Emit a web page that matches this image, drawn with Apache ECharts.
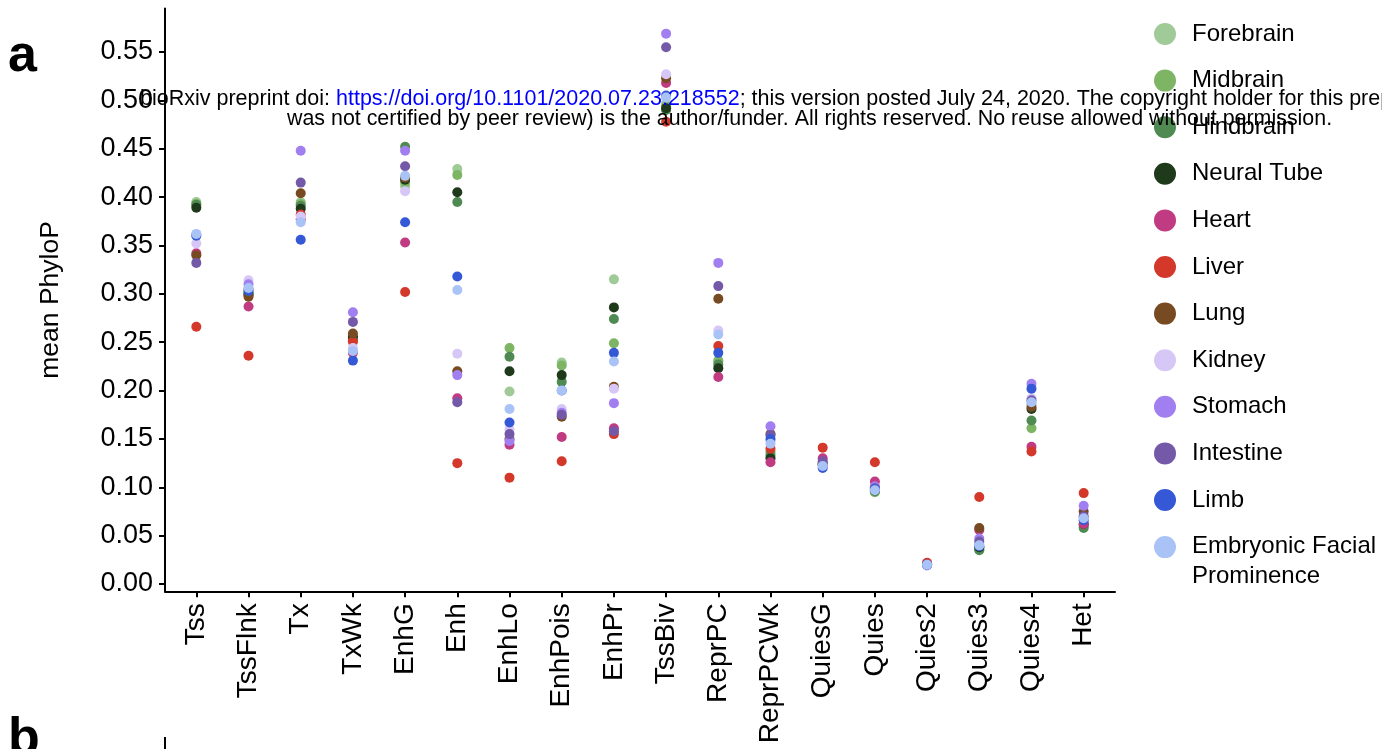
<!DOCTYPE html>
<html><head><meta charset="utf-8">
<script src="https://cdn.jsdelivr.net/npm/echarts@6/dist/echarts.min.js"></script>
<style>html,body{margin:0;padding:0;background:#fff;overflow:hidden}#c{width:1382px;height:749px}</style>
</head><body><div id="c"></div>
<script>
const categories = ['Tss','TssFlnk','Tx','TxWk','EnhG','Enh','EnhLo','EnhPois','EnhPr','TssBiv','ReprPC','ReprPCWk','QuiesG','Quies','Quies2','Quies3','Quies4','Het'];
const yTicks = [0, 0.05, 0.10, 0.15, 0.20, 0.25, 0.30, 0.35, 0.40, 0.45, 0.50, 0.55];

const forebrain  = [0.395,0.302,0.395,0.250,0.411,0.429,0.199,0.229,0.315,0.497,0.230,0.136,0.124,0.096,0.020,0.037,0.186,0.061];
const midbrain   = [0.393,0.301,0.393,0.252,0.415,0.423,0.244,0.226,0.249,0.494,0.231,0.137,0.124,0.095,0.020,0.036,0.161,0.060];
const hindbrain  = [0.392,0.300,0.391,0.254,0.452,0.395,0.235,0.209,0.274,0.490,0.227,0.133,0.123,0.096,0.020,0.035,0.169,0.058];
const neuralTube = [0.389,0.299,0.388,0.256,0.418,0.405,0.220,0.216,0.286,0.492,0.223,0.130,0.123,0.097,0.020,0.038,0.181,0.062];
const heart      = [0.342,0.287,0.377,0.239,0.353,0.192,0.144,0.152,0.161,0.518,0.214,0.126,0.130,0.106,0.021,0.056,0.142,0.062];
const liver      = [0.266,0.236,0.382,0.251,0.302,0.125,0.110,0.127,0.155,0.478,0.246,0.140,0.141,0.126,0.022,0.090,0.137,0.094];
const lung       = [0.340,0.297,0.404,0.259,0.420,0.220,0.150,0.173,0.204,0.523,0.295,0.155,0.125,0.100,0.020,0.058,0.183,0.075];
const kidney     = [0.352,0.314,0.380,0.244,0.406,0.238,0.160,0.181,0.202,0.527,0.262,0.148,0.122,0.099,0.019,0.041,0.192,0.069];
const stomach    = [0.361,0.310,0.448,0.281,0.448,0.216,0.148,0.177,0.187,0.569,0.332,0.163,0.124,0.101,0.020,0.047,0.207,0.081];
const intestine  = [0.332,0.305,0.415,0.271,0.432,0.188,0.155,0.175,0.158,0.555,0.308,0.154,0.127,0.099,0.020,0.044,0.190,0.070];
const limb       = [0.360,0.303,0.356,0.231,0.374,0.318,0.167,0.200,0.239,0.505,0.239,0.150,0.120,0.098,0.020,0.039,0.202,0.066];
const facial     = [0.362,0.306,0.374,0.241,0.422,0.304,0.181,0.200,0.230,0.503,0.258,0.145,0.122,0.097,0.020,0.040,0.188,0.068];

const seriesNames = ['Forebrain','Midbrain','Hindbrain','Neural Tube','Heart','Liver','Lung','Kidney','Stomach','Intestine','Limb','Embryonic Facial Prominence'];
const seriesValues = [forebrain, midbrain, hindbrain, neuralTube, heart, liver, lung, kidney, stomach, intestine, limb, facial];
const seriesColors = ['#a0cb98','#7db565','#4f8a52','#1e3a1b','#c13b82','#d3382a','#774a22','#d6c7f6','#a17ff0','#7459a8','#3559d6','#a9c3f7'];

const FONT = "'Liberation Sans', Arial, Helvetica, sans-serif";
const xPos = categories.map((c, i) => i + 1);

const chart = echarts.init(document.getElementById('c'), null, {renderer: 'canvas'});

const series = seriesNames.map((n, k) => ({
  name: n,
  type: 'scatter',
  symbol: 'circle',
  symbolSize: 10,
  itemStyle: {color: seriesColors[k], opacity: 1},
  emphasis: {disabled: true},
  data: seriesValues[k].map((v, i) => [xPos[i], v]),
  z: 2
}));

const option = {
  animation: false,
  backgroundColor: '#fff',
  grid: {left: 165, right: 267, top: 8.5, height: 582.8, containLabel: false},
  legend: {
    orient: 'vertical',
    left: 1154,
    top: 19.5,
    padding: 0,
    icon: 'circle',
    itemWidth: 44,
    itemHeight: 22,
    itemGap: 17.6,
    selectedMode: false,
    data: seriesNames,
    formatter: function (name) {
      if (name === 'Embryonic Facial Prominence') {
        return '{a|Embryonic Facial}\n{b|Prominence}';
      }
      return name;
    },
    textStyle: {
      fontSize: 24, lineHeight: 29, color: '#000', fontFamily: FONT,
      rich: {
        a: {fontSize: 24, lineHeight: 29, color: '#000', fontFamily: FONT},
        b: {fontSize: 24, lineHeight: 1, height: 30, verticalAlign: 'top', color: '#000', fontFamily: FONT}
      }
    }
  },
  xAxis: {
    type: 'value',
    min: 0.4,
    max: 18.6,
    splitLine: {show: false},
    axisLine: {show: true, onZero: false, lineStyle: {color: '#000', width: 2}},
    axisTick: {show: true, customValues: xPos, length: 6, lineStyle: {color: '#000', width: 2}},
    axisLabel: {
      customValues: xPos, rotate: 90, margin: 12, fontSize: 28, color: '#000', fontFamily: FONT,
      formatter: v => categories[Math.round(v) - 1] || ''
    }
  },
  yAxis: {
    type: 'value',
    min: -0.0075,
    max: 0.595,
    name: 'mean PhyloP',
    nameLocation: 'middle',
    nameRotate: 90,
    nameGap: 101,
    nameTextStyle: {fontSize: 26.5, color: '#000', fontFamily: FONT},
    splitLine: {show: false},
    axisLine: {show: true, onZero: false, lineStyle: {color: '#000', width: 2}},
    axisTick: {show: true, customValues: yTicks, length: 6, lineStyle: {color: '#000', width: 2}},
    axisLabel: {
      customValues: yTicks, margin: 12, fontSize: 27, color: '#000', fontFamily: FONT,
      formatter: v => v.toFixed(2)
    }
  },
  graphic: [
    {type: 'text', left: 8, top: 31, z: 50, style: {text: 'a', font: "bold 52px " + FONT, fill: '#000'}},
    {type: 'text', left: 8, top: 714, z: 50, style: {text: 'b', font: "bold 52px " + FONT, fill: '#000'}},
    {type: 'line', z: 50, shape: {x1: 165, y1: 737, x2: 165, y2: 749}, style: {stroke: '#000', lineWidth: 2}},
    {type: 'text', left: 140, top: 88, z: 100, silent: true, style: {
      text: '{k|bioRxiv preprint doi: }{u|https://doi.org/10.1101/2020.07.23.218552}{k|; this version posted July 24, 2020. The copyright holder for this preprint (which}',
      rich: {
        k: {fill: '#000', fontSize: 21.5, fontFamily: FONT},
        u: {fill: '#0000ff', fontSize: 21.5, fontFamily: FONT}
      }
    }},
    {type: 'text', left: 287, top: 109, z: 100, silent: true, style: {
      text: 'was not certified by peer review) is the author/funder. All rights reserved. No reuse allowed without permission.',
      fill: '#000', fontSize: 21.4, fontFamily: FONT
    }}
  ],
  series: series
};
chart.setOption(option);
</script>
</body></html>
